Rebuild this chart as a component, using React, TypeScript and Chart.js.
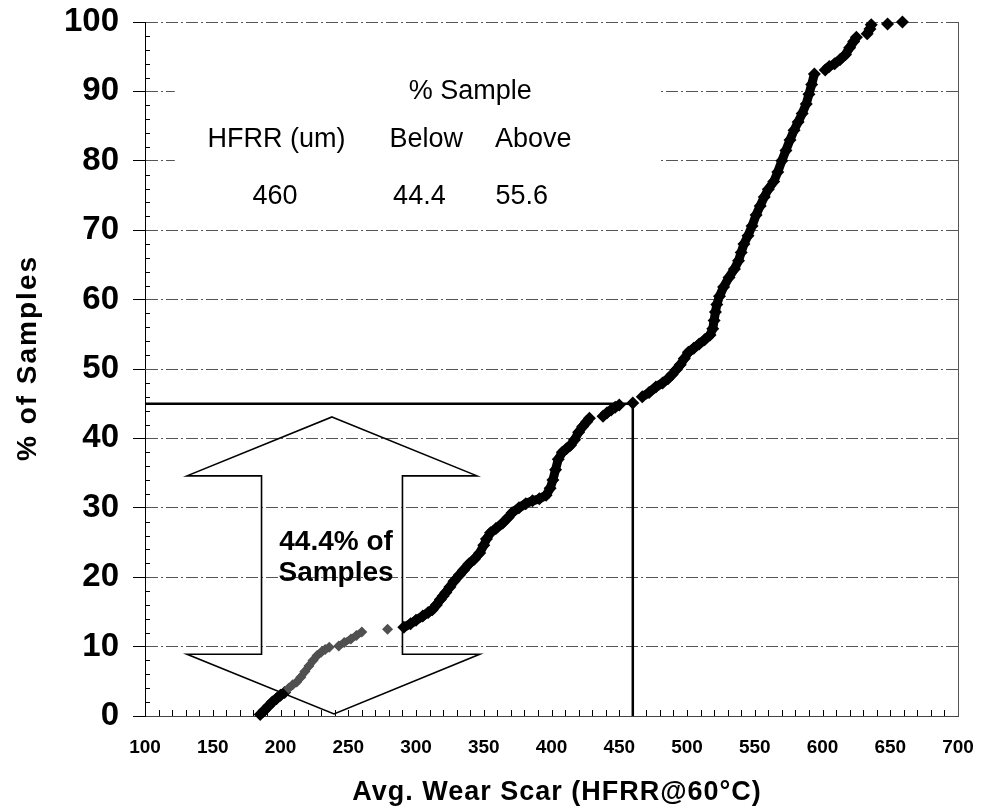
import React, { useEffect, useRef } from 'react';
import { Chart, registerables } from 'chart.js';

Chart.register(...registerables);

const FONT = "'Liberation Sans', Arial, Helvetica, sans-serif";

// Cumulative distribution: sorted wear scar (um) vs % of samples (null = visible gap in the trail)
const wearScar: (number | null)[] = [
  185, 188, 191, 194, 197, 200, 203, null,
  291, 296, 300, 305, 309, 312, 315, 318, 320, 322, 325, 328, 332, 335, 339, 343, 347, 350, 352, 355, 359,
  364, 368, 371, 376, 381, 386, 391, 396, 399, 401, 403, 405, 408, 411, 414, 417, 420, 423, 426, 428, null,
  438, 441, 444, 447, 450, null,
  460, null,
  467, 472, 477, 482, 486, 489, 492, 495, 498, 501, 505, 509, 513, 517, 519, 520, 521, 522, 524, 527, 531,
  535, 538, 540, 542, 545, 548, 551, 554, 557, 560, 564, 567, 570, 573, 576, 579, 582, 585, 588, 590, 592, 594, null,
  602, 605, 609, 613, 617, 620, 623, 625, null,
  633, 635, 636, null,
  648, null,
  659,
];
const percentSamples: (number | null)[] = [
  0.2, 0.8, 1.4, 2.0, 2.5, 3.0, 3.4, null,
  12.8, 13.3, 13.8, 14.4, 14.9, 15.3, 16.0, 16.8, 17.3, 17.8, 18.6, 19.4, 20.3, 21.0, 21.9, 22.6, 23.5, 24.6, 25.5, 26.4, 27.0,
  27.8, 28.6, 29.3, 30.0, 30.6, 31.0, 31.3, 31.8, 32.8, 34.0, 35.5, 37.0, 38.0, 38.5, 39.0, 39.8, 40.9, 41.7, 42.4, 42.9, null,
  43.2, 43.7, 44.1, 44.5, 44.8, null,
  45.1, null,
  46.0, 46.6, 47.4, 48.0, 48.6, 49.2, 49.9, 50.6, 51.5, 52.4, 53.0, 53.6, 54.2, 54.9, 55.8, 57.0, 58.2, 59.3, 60.5, 61.8, 63.2,
  64.4, 65.6, 66.8, 68.0, 69.2, 70.6, 72.2, 73.5, 74.8, 75.9, 77.0, 78.4, 80.0, 81.5, 83.0, 84.4, 85.6, 86.8, 88.2, 89.6, 91.0, 92.5, null,
  93.1, 93.6, 94.0, 94.6, 95.3, 96.3, 97.2, 97.8, null,
  98.3, 99.0, 99.6, null,
  99.7, null,
  100,
];

// lighter (grey-printed) part of the trail at the low end
const lowWearScar: (number | null)[] = [206, 209, 212, 215, 218, 221, 224, 227, 230, 233, 236, null, 243, 247, 252, 256, 260, null, 279];
const lowPercentSamples: (number | null)[] = [4.0, 4.5, 4.9, 5.6, 6.4, 7.2, 8.0, 8.7, 9.2, 9.6, 9.9, null, 10.1, 10.6, 11.1, 11.6, 12.1, null, 12.5];

const xTickValues = [100, 150, 200, 250, 300, 350, 400, 450, 500, 550, 600, 650, 700];
const yTickValues = [0, 10, 20, 30, 40, 50, 60, 70, 80, 90, 100];

const hfrrLimit = 460;
const limitPercent = 45;
const tableTitle = '% Sample';
const tableHeaders = ['HFRR (um)', 'Below', 'Above'];
const tableValues = ['460', '44.4', '55.6'];
const arrowLabel = ['44.4% of', 'Samples'];
const xTitle = 'Avg. Wear Scar (HFRR@60°C)';
const yTitle = '% of Samples';

function toPoints(xs: (number | null)[], ys: (number | null)[]) {
  return xs.map((x, i) => ({ x: x as any, y: ys[i] as any }));
}

const overlayPlugin = {
  id: 'overlay',
  beforeDatasetsDraw(chart: any) {
    const { ctx, chartArea, scales } = chart;
    const xs = scales.x;
    const ys = scales.y;
    const px = (v: number) => xs.getPixelForValue(v);
    const py = (v: number) => ys.getPixelForValue(v);
    ctx.save();

    // white panel behind the table text
    ctx.fillStyle = '#ffffff';
    ctx.fillRect(px(122), py(96), px(480) - px(122), py(73) - py(96));

    // right frame line
    ctx.strokeStyle = '#555';
    ctx.lineWidth = 1;
    ctx.beginPath();
    ctx.moveTo(Math.round(chartArea.right) + 0.5, chartArea.top);
    ctx.lineTo(Math.round(chartArea.right) + 0.5, chartArea.bottom);
    ctx.stroke();

    // minor ticks
    ctx.strokeStyle = '#000';
    ctx.beginPath();
    for (let v = 2; v < 100; v += 2) {
      if (v % 10 === 0) continue;
      const yy = Math.round(py(v)) + 0.5;
      ctx.moveTo(chartArea.left, yy);
      ctx.lineTo(chartArea.left + 5, yy);
    }
    for (let v = 110; v < 700; v += 10) {
      const xx = Math.round(px(v)) + 0.5;
      ctx.moveTo(xx, chartArea.bottom);
      ctx.lineTo(xx, chartArea.bottom - 6);
    }
    ctx.stroke();

    // reference lines at the HFRR limit
    ctx.lineWidth = 2.5;
    ctx.strokeStyle = '#000';
    ctx.beginPath();
    ctx.moveTo(chartArea.left, py(limitPercent));
    ctx.lineTo(px(hfrrLimit), py(limitPercent));
    ctx.lineTo(px(hfrrLimit), chartArea.bottom);
    ctx.stroke();

    // double-headed arrow
    const cx = 238;
    const headHalf = 107;
    const shaftHalf = 52;
    const tipTop = 43.1;
    const headTop = 34.6;
    const headBottom = 8.9;
    const tipBottom = 0.3;
    const pts: [number, number][] = [
      [cx, tipTop],
      [cx + headHalf, headTop],
      [cx + shaftHalf, headTop],
      [cx + shaftHalf, headBottom],
      [cx + headHalf + 2, headBottom],
      [cx + 1.5, tipBottom],
      [cx - headHalf, headBottom],
      [cx - shaftHalf, headBottom],
      [cx - shaftHalf, headTop],
      [cx - headHalf, headTop],
    ];
    ctx.lineWidth = 1.6;
    ctx.beginPath();
    pts.forEach(([a, b], i) => {
      if (i === 0) ctx.moveTo(px(a), py(b));
      else ctx.lineTo(px(a), py(b));
    });
    ctx.closePath();
    ctx.stroke();

    // arrow label
    ctx.fillStyle = '#000';
    ctx.textAlign = 'center';
    ctx.textBaseline = 'middle';
    ctx.font = `bold 28px ${FONT}`;
    ctx.fillText(arrowLabel[0], px(241), py(25.1));
    ctx.fillText(arrowLabel[1], px(241), py(20.6));

    // table text
    ctx.font = `27px ${FONT}`;
    ctx.fillText(tableTitle, px(340), py(90));
    const headerX = [197, 307.5, 386.5];
    const valueX = [196, 302.5, 378];
    tableHeaders.forEach((t, i) => ctx.fillText(t, px(headerX[i]), py(83)));
    tableValues.forEach((t, i) => ctx.fillText(t, px(valueX[i]), py(74.8)));

    ctx.restore();
  },
  afterDraw(chart: any) {
    const { ctx } = chart;
    ctx.save();
    ctx.fillStyle = '#000';
    ctx.textAlign = 'center';
    ctx.textBaseline = 'middle';
    (ctx as any).letterSpacing = '1px';
    ctx.font = `bold 27px ${FONT}`;
    ctx.fillText(xTitle, 557, 793);
    ctx.translate(28, 358);
    ctx.rotate(-Math.PI / 2);
    (ctx as any).letterSpacing = '2px';
    ctx.font = `bold 28px ${FONT}`;
    ctx.fillText(yTitle, 0, 0);
    ctx.restore();
  },
};

export default function App() {
  const canvasRef = useRef<HTMLCanvasElement | null>(null);

  useEffect(() => {
    const canvas = canvasRef.current;
    if (!canvas) return;
    const chart = new Chart(canvas, {
      type: 'scatter',
      data: {
        datasets: [
          {
            label: 'Low',
            data: toPoints(lowWearScar, lowPercentSamples),
            showLine: true,
            spanGaps: false,
            borderColor: '#505050',
            borderWidth: 7,
            backgroundColor: '#505050',
            pointStyle: 'rectRot',
            pointRadius: 5.5,
            pointBorderWidth: 0,
            clip: false,
          } as any,
          {
            label: 'Samples',
            data: toPoints(wearScar, percentSamples),
            showLine: true,
            spanGaps: false,
            borderColor: '#000',
            borderWidth: 9,
            backgroundColor: '#000',
            pointStyle: 'rectRot',
            pointRadius: 6.5,
            pointBorderWidth: 0,
            clip: false,
          } as any,
        ],
      },
      options: {
        responsive: false,
        animation: false,
        devicePixelRatio: 1,
        layout: { padding: { top: 22, right: 25, left: 0, bottom: 0 } },
        plugins: {
          legend: { display: false },
          tooltip: { enabled: false },
        },
        scales: {
          x: {
            type: 'linear',
            min: 100,
            max: 700,
            afterBuildTicks: (s: any) => {
              s.ticks = xTickValues.map((v) => ({ value: v }));
            },
            afterFit: (s: any) => {
              s.height = 93;
              s.paddingLeft = 0;
              s.paddingRight = 0;
            },
            grid: { display: false, drawTicks: false },
            border: { display: true, color: '#444', width: 1 },
            ticks: {
              color: '#000',
              font: { family: FONT, size: 19, weight: 'bold' },
              padding: 20,
              maxRotation: 0,
              autoSkip: false,
            },
          },
          y: {
            type: 'linear',
            min: 0,
            max: 100,
            afterBuildTicks: (s: any) => {
              s.ticks = yTickValues.map((v) => ({ value: v }));
            },
            afterFit: (s: any) => {
              s.width = 145;
              s.paddingTop = 0;
              s.paddingBottom = 0;
            },
            grid: {
              color: (c: any) => (c.tick && c.tick.value === 0 ? 'rgba(0,0,0,0)' : '#555'),
              lineWidth: 1,
              drawTicks: true,
              tickLength: 12,
              tickColor: '#000',
              tickWidth: 1,
            },
            border: { display: true, color: '#000', width: 1, dash: [12, 3, 2, 3] },
            ticks: {
              color: '#000',
              font: { family: FONT, size: 33, weight: 'bold' },
              padding: 14,
              autoSkip: false,
            },
          },
        },
      } as any,
      plugins: [overlayPlugin],
    });
    return () => chart.destroy();
  }, []);

  return (
    <div style={{ position: 'absolute', left: 0, top: 0, width: 983, height: 809, background: '#fff' }}>
      <canvas ref={canvasRef} width={983} height={809} style={{ display: 'block' }} />
    </div>
  );
}
